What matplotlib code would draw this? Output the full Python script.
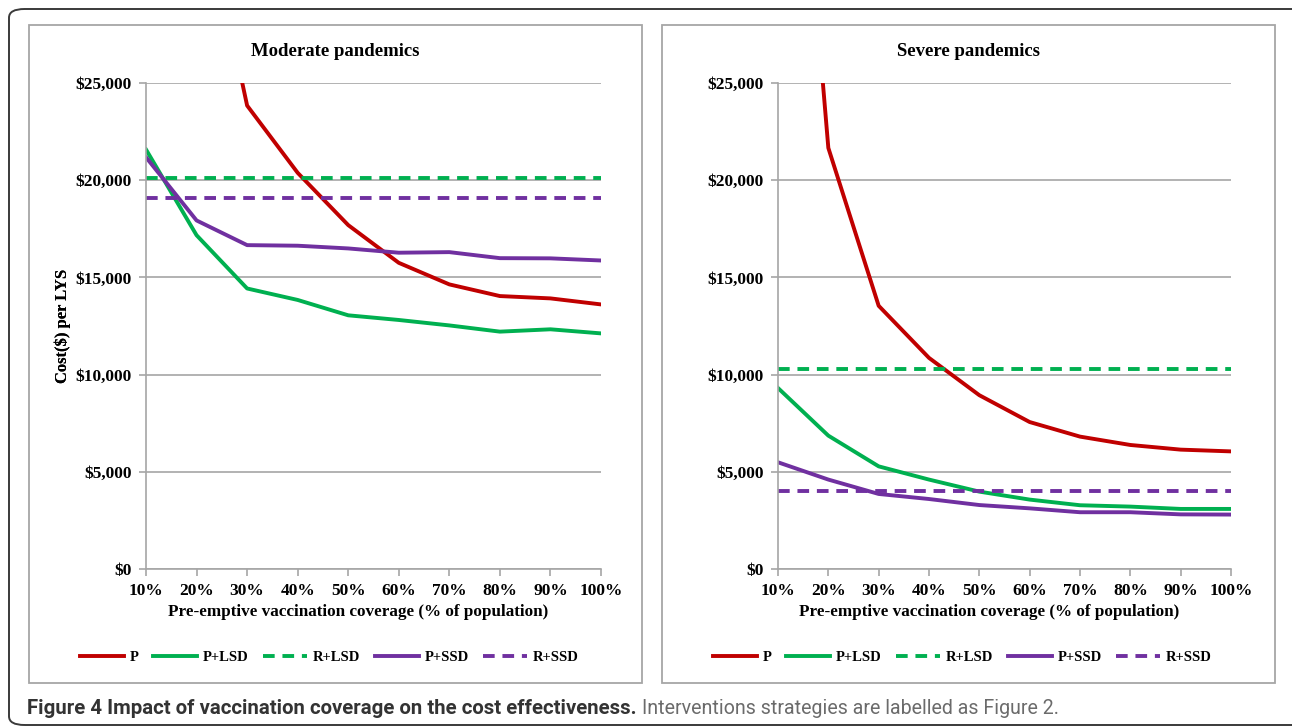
import matplotlib
matplotlib.use("Agg")
import matplotlib.pyplot as plt
from matplotlib.patches import Rectangle, FancyBboxPatch
from matplotlib.ticker import FuncFormatter

# coverage categories
coverage = ["10%", "20%", "30%", "40%", "50%", "60%", "70%", "80%", "90%", "100%"]

# moderate pandemics, cost ($) per LYS
mod_p = [68000, 36000, 23840, 20380, 17690, 15750, 14640, 14040, 13920, 13610]
mod_plsd = [21580, 17170, 14430, 13840, 13050, 12810, 12530, 12210, 12330, 12120]
mod_rlsd = 20090
mod_pssd = [21180, 17930, 16660, 16630, 16490, 16270, 16300, 15990, 15980, 15870]
mod_rssd = 19090

# severe pandemics
sev_p = [52500, 21660, 13540, 10860, 8940, 7560, 6810, 6380, 6140, 6050]
sev_plsd = [9310, 6860, 5280, 4600, 3980, 3570, 3280, 3210, 3090, 3090]
sev_rlsd = 10290
sev_pssd = [5490, 4600, 3860, 3600, 3290, 3120, 2920, 2920, 2810, 2800]
sev_rssd = 4030

y_ticks = [0, 5000, 10000, 15000, 20000, 25000]

RED = "#C00000"
GREEN = "#00B050"
PURPLE = "#7030A0"
GRID = "#A6A6A6"
SERIF = ["Liberation Serif", "DejaVu Serif"]

W, H = 1292, 727
fig = plt.figure(figsize=(W / 100, H / 100), dpi=100)


def fx(px):
    return px / W


def fy(py):
    return 1 - py / H


# outer rounded frame (runs off the right edge like the source)
frame = FancyBboxPatch((fx(9), fy(725)), fx(1310 - 9), fy(9) - fy(725),
                       boxstyle="round,pad=0,rounding_size=0.012",
                       transform=fig.transFigure, fill=False,
                       edgecolor="#3a3a3a", linewidth=1.4, clip_on=False)
fig.patches.append(frame)

# chart boxes
boxes = [(29, 642), (662, 1275)]
for x0, x1 in boxes:
    fig.patches.append(Rectangle((fx(x0), fy(683)), fx(x1 - x0), fy(25) - fy(683),
                                 transform=fig.transFigure, fill=False,
                                 edgecolor=GRID, linewidth=1.3))


def draw_panel(left, right, box, title, p, plsd, rlsd, pssd, rssd):
    ax = fig.add_axes([fx(left), fy(569), fx(right - left), fy(83) - fy(569)])
    x = list(range(len(coverage)))
    lw = 2.8
    dash = (0, (3.0, 2.0))
    ax.plot(x, p, color=RED, lw=lw, label="P")
    ax.plot(x, plsd, color=GREEN, lw=lw, label="P+LSD")
    ax.plot(x, [rlsd] * len(x), color=GREEN, lw=lw, ls=dash, label="R+LSD")
    ax.plot(x, pssd, color=PURPLE, lw=lw, label="P+SSD")
    ax.plot(x, [rssd] * len(x), color=PURPLE, lw=lw, ls=dash, label="R+SSD")

    ax.set_xlim(0, len(x) - 1)
    ax.set_ylim(0, 25000)
    ax.set_xticks(x)
    ax.set_xticklabels(coverage)
    ax.set_yticks(y_ticks)
    ax.yaxis.set_major_formatter(FuncFormatter(lambda v, pos: "${:,.0f}".format(v)))
    ax.grid(axis="y", color=GRID, lw=1.2)
    ax.set_axisbelow(True)
    for s in ["top", "right"]:
        ax.spines[s].set_visible(False)
    for s in ["left", "bottom"]:
        ax.spines[s].set_color(GRID)
        ax.spines[s].set_linewidth(1.2)
    ax.tick_params(axis="both", color=GRID, width=1.2, length=5, pad=5)
    for lab in ax.get_xticklabels() + ax.get_yticklabels():
        lab.set_family(SERIF)
        lab.set_fontweight("bold")
        lab.set_fontsize(12.5)
    ax.set_xlabel("Pre-emptive vaccination coverage (% of population)",
                  family=SERIF, fontweight="bold", fontsize=12.3)
    ax.xaxis.set_label_coords((fx(left + (right - left) / 2 - 15) - fx(left)) / fx(right - left),
                              -(612 - 569) / (569 - 83), transform=ax.transAxes)
    ax.xaxis.label.set_va("center")
    ax.set_ylabel("Cost($) per LYS", family=SERIF, fontweight="bold", fontsize=12)
    ax.yaxis.set_label_coords(-(left - 63) / (right - left), 0.5)
    ax.yaxis.label.set_va("center")
    cx = (box[0] + box[1]) / 2
    fig.text(fx(cx), fy(51), title, ha="center", va="center",
             family=SERIF, fontweight="bold", fontsize=13.5)
    ax.legend(loc="center", bbox_to_anchor=(fx(cx - 6), fy(657)),
              bbox_transform=fig.transFigure, ncol=5, frameon=False,
              handlelength=3.0, handletextpad=0.4, columnspacing=1.0,
              prop={"family": SERIF, "weight": "bold", "size": 10.5})
    return ax


draw_panel(146, 601, boxes[0], "Moderate pandemics",
           mod_p, mod_plsd, mod_rlsd, mod_pssd, mod_rssd)
draw_panel(778, 1231, boxes[1], "Severe pandemics",
           sev_p, sev_plsd, sev_rlsd, sev_pssd, sev_rssd)

# caption, sized so the bold part spans the same width as the source
CAP = ["Roboto", "DejaVu Sans"]
bold_txt = "Figure 4 Impact of vaccination coverage on the cost effectiveness."
t1 = fig.text(fx(27), fy(708), bold_txt, ha="left", va="center", family=CAP,
              fontweight="bold", fontsize=15, color="#333333")
fig.canvas.draw()
size = 15 * 614 / t1.get_window_extent().width
t1.set_fontsize(size)
fig.canvas.draw()
bb = t1.get_window_extent()
fig.text(bb.x1 / W + fx(5), fy(708), "Interventions strategies are labelled as Figure 2.",
         ha="left", va="center", family=CAP, fontsize=size * 0.96, color="#6b6b6b")

fig.savefig("out.png", dpi=100)
